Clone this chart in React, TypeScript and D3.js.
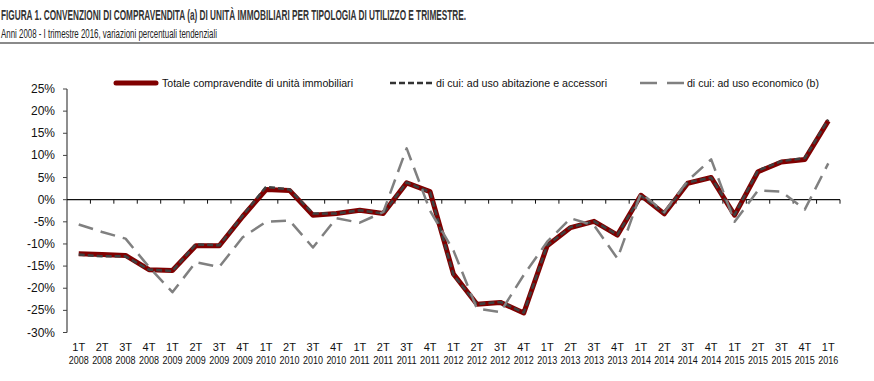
import React from "react";
import * as d3 from "d3";

const quarters = ["1T","2T","3T","4T"];
const years = ["2008","2009","2010","2011","2012","2013","2014","2015","2016"];
const categories: string[] = [];
years.forEach((y) => quarters.forEach((q) => { if (!(y === "2016" && q !== "1T")) categories.push(`${q} ${y}`); }));

const totale = [-12.2,-12.4,-12.6,-15.8,-16.0,-10.4,-10.4,-3.8,2.3,2.1,-3.5,-3.1,-2.4,-3.1,3.8,1.8,-16.8,-23.6,-23.2,-25.6,-10.4,-6.3,-4.9,-8.0,1.0,-3.2,3.7,5.0,-3.5,6.3,8.5,9.1,17.8];
const abitazione = [-12.4,-12.8,-12.8,-15.8,-16.1,-10.1,-10.3,-3.6,2.9,2.3,-3.1,-3.1,-2.4,-3.1,3.9,1.7,-17.0,-23.6,-23.1,-25.5,-10.3,-6.2,-4.9,-7.9,0.9,-3.0,3.9,5.0,-3.4,6.6,8.7,9.4,18.1];
const economico = [-5.6,-7.3,-8.8,-15.2,-20.9,-14.1,-15.2,-8.5,-5.0,-4.7,-10.8,-4.2,-5.2,-2.8,11.6,-2.5,-11.5,-24.6,-25.4,-17.0,-9.5,-4.2,-5.8,-13.3,1.5,-2.8,4.3,9.1,-5.0,2.1,1.8,-2.2,8.2];
const yTicks = [25,20,15,10,5,0,-5,-10,-15,-20,-25,-30];

const title = "FIGURA 1. CONVENZIONI DI COMPRAVENDITA (a) DI UNITÀ IMMOBILIARI PER TIPOLOGIA DI UTILIZZO E TRIMESTRE.";
const subtitle = "Anni 2008 - I trimestre 2016, variazioni percentuali tendenziali";
const legendLabels = ["Totale compravendite di unità immobiliari", "di cui: ad uso abitazione e accessori", "di cui: ad uso economico (b)"];

const FONT = "'Liberation Sans Narrow', 'Arial Narrow', 'Liberation Sans', Arial, sans-serif";

export default function App() {
  const x = d3.scaleBand<string>().domain(categories).range([67, 840]).padding(0);
  const y = d3.scaleLinear().domain([-30, 25]).range([332.5, 89]);
  const cx = (i: number) => (x(categories[i]) as number) + x.bandwidth() / 2;
  const line = d3.line<number>().x((_, i) => cx(i)).y((d) => y(d));
  const y0 = y(0);

  return (
    <svg width={874} height={381} style={{ position: "absolute", left: 0, top: 0, background: "#fff" }} fontFamily={FONT}>
      <rect width={874} height={381} fill="#fff" />
      <text x={1} y={20} fontSize={15} fontWeight="bold" fill="#333" textLength={465} lengthAdjust="spacingAndGlyphs">{title}</text>
      <text x={1} y={37.5} fontSize={13} fill="#222" textLength={216} lengthAdjust="spacingAndGlyphs">{subtitle}</text>
      <rect x={0} y={42} width={874} height={2} fill="#8a8a8a" />

      {/* legend */}
      <line x1={116} x2={156} y1={83} y2={83} stroke="#800000" strokeWidth={5} strokeLinecap="round" />
      <text x={162} y={87} fontSize={11} fill="#111" textLength={191} lengthAdjust="spacingAndGlyphs">{legendLabels[0]}</text>
      <line x1={390} x2={432} y1={83} y2={83} stroke="#333" strokeWidth={2.5} strokeDasharray="6,3" />
      <text x={436} y={87} fontSize={11} fill="#111" textLength={171} lengthAdjust="spacingAndGlyphs">{legendLabels[1]}</text>
      <line x1={640} x2={685} y1={83} y2={83} stroke="#808080" strokeWidth={2.5} strokeDasharray="17,10" />
      <text x={687} y={87} fontSize={11} fill="#111" textLength={132} lengthAdjust="spacingAndGlyphs">{legendLabels[2]}</text>

      {/* y axis */}
      <line x1={67} x2={67} y1={y(25)} y2={y(-30)} stroke="#444" strokeWidth={1.2} />
      {yTicks.map((t) => (
        <g key={t}>
          <line x1={63} x2={67} y1={y(t)} y2={y(t)} stroke="#444" />
          <text x={55} y={y(t) + 4} fontSize={12} textAnchor="end" fill="#111">{`${t}%`}</text>
        </g>
      ))}
      {/* zero line */}
      <line x1={67} x2={840} y1={y0} y2={y0} stroke="#111" strokeWidth={1.2} />
      {categories.map((c) => (
        <line key={c} x1={(x(c) as number) + x.bandwidth()} x2={(x(c) as number) + x.bandwidth()} y1={y0} y2={y0 + 4} stroke="#111" />
      ))}
      {categories.map((c, i) => {
        const [q, yr] = c.split(" ");
        return (
          <g key={"l" + c}>
            <text x={cx(i)} y={351} fontSize={11} textAnchor="middle" fill="#111">{q}</text>
            <text x={cx(i)} y={364} fontSize={11} textAnchor="middle" fill="#111" textLength={20} lengthAdjust="spacingAndGlyphs">{yr}</text>
          </g>
        );
      })}

      {/* series */}
      <path d={line(totale) as string} fill="none" stroke="#800000" strokeWidth={5} strokeLinejoin="round" />
      <path d={line(abitazione) as string} fill="none" stroke="#404040" strokeWidth={2.5} strokeDasharray="6,3" strokeLinejoin="round" />
      <path d={line(economico) as string} fill="none" stroke="#808080" strokeWidth={2.5} strokeDasharray="15,8" strokeLinejoin="round" />
    </svg>
  );
}
